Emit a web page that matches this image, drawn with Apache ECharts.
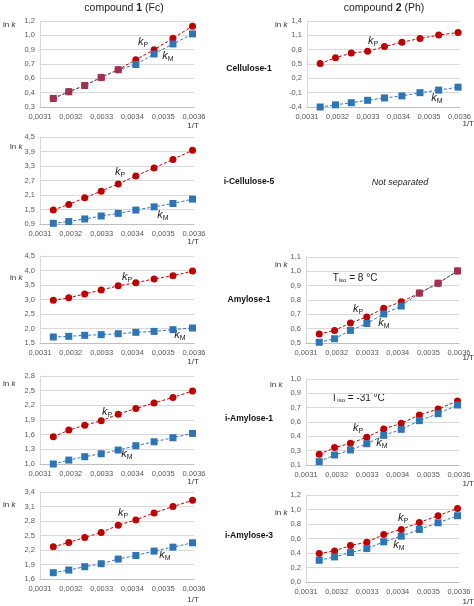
<!DOCTYPE html>
<html><head><meta charset="utf-8">
<script src="https://cdn.jsdelivr.net/npm/echarts@6/dist/echarts.min.js"></script>
<style>html,body{margin:0;padding:0;background:#fff}#c{width:474px;height:606px}</style>
</head><body><div id="c"></div>
<script>
// ---- x values (1/T for 45..5 °C) ----
const invT = [0.0031432, 0.0031934, 0.0032452, 0.0032987, 0.0033540, 0.0034112, 0.0034704, 0.0035317, 0.0035952];
const xTicks = [0.0031, 0.0032, 0.0033, 0.0034, 0.0035, 0.0036];
const xTickLabels = ['0,0031', '0,0032', '0,0033', '0,0034', '0,0035', '0,0036'];

// ---- series values (ln k) ----
const fcCell1P = [0.39, 0.46, 0.525, 0.61, 0.69, 0.795, 0.90, 1.02, 1.145];
const fcCell1M = [0.39, 0.46, 0.525, 0.61, 0.69, 0.745, 0.855, 0.96, 1.065];
const phCell1P = [0.51, 0.63, 0.73, 0.765, 0.865, 0.955, 1.035, 1.105, 1.16];
const phCell1M = [-0.40, -0.355, -0.31, -0.26, -0.21, -0.168, -0.10, -0.047, 0.015];
const fcICell5P = [1.48, 1.71, 1.985, 2.26, 2.56, 2.89, 3.22, 3.57, 3.95];
const fcICell5M = [0.93, 1.00, 1.11, 1.23, 1.34, 1.477, 1.61, 1.75, 1.93];
const fcAmy1P = [2.97, 3.06, 3.19, 3.33, 3.47, 3.58, 3.71, 3.82, 3.98];
const fcAmy1M = [1.707, 1.73, 1.764, 1.787, 1.82, 1.868, 1.90, 1.96, 2.017];
const phAmy1P = [0.562, 0.588, 0.64, 0.682, 0.742, 0.788, 0.848, 0.917, 1.003];
const phAmy1M = [0.505, 0.53, 0.588, 0.636, 0.703, 0.758, 0.848, 0.917, 1.003];
const fcIAmy1P = [1.557, 1.693, 1.795, 1.883, 2.02, 2.134, 2.25, 2.36, 2.494];
const fcIAmy1M = [1.0, 1.08, 1.149, 1.21, 1.285, 1.374, 1.455, 1.537, 1.625];
const phIAmy1P = [0.212, 0.282, 0.327, 0.39, 0.477, 0.536, 0.623, 0.686, 0.77];
const phIAmy1M = [0.135, 0.205, 0.257, 0.323, 0.41, 0.473, 0.564, 0.637, 0.728];
const fcIAmy3P = [2.266, 2.355, 2.459, 2.562, 2.713, 2.823, 2.967, 3.098, 3.228];
const fcIAmy3M = [1.73, 1.785, 1.854, 1.916, 2.012, 2.087, 2.177, 2.259, 2.349];
const phIAmy3P = [0.392, 0.429, 0.503, 0.549, 0.655, 0.725, 0.821, 0.914, 1.015];
const phIAmy3M = [0.30, 0.346, 0.406, 0.461, 0.554, 0.632, 0.725, 0.817, 0.914];

// ---- y tick values and labels ----
const yTicksFcCell1 = [0.3, 0.45, 0.6, 0.75, 0.9, 1.05, 1.2];
const yLabelsFcCell1 = ['0,3', '0,4', '0,6', '0,7', '0,9', '1,0', '1,2'];
const yTicksPhCell1 = [-0.4, -0.1, 0.2, 0.5, 0.8, 1.1, 1.4];
const yLabelsPhCell1 = ['-0,4', '-0,1', '0,2', '0,5', '0,8', '1,1', '1,4'];
const yTicksFcICell5 = [0.9, 1.5, 2.1, 2.7, 3.3, 3.9, 4.5];
const yLabelsFcICell5 = ['0,9', '1,5', '2,1', '2,7', '3,3', '3,9', '4,5'];
const yTicksFcAmy1 = [1.5, 2.0, 2.5, 3.0, 3.5, 4.0, 4.5];
const yLabelsFcAmy1 = ['1,5', '2,0', '2,5', '3,0', '3,5', '4,0', '4,5'];
const yTicksPhAmy1 = [0.5, 0.6, 0.7, 0.8, 0.9, 1.0, 1.1];
const yLabelsPhAmy1 = ['0,5', '0,6', '0,7', '0,8', '0,9', '1,0', '1,1'];
const yTicksFcIAmy1 = [1.0, 1.3, 1.6, 1.9, 2.2, 2.5, 2.8];
const yLabelsFcIAmy1 = ['1,0', '1,3', '1,6', '1,9', '2,2', '2,5', '2,8'];
const yTicksPhIAmy1 = [0.1, 0.25, 0.4, 0.55, 0.7, 0.85, 1.0];
const yLabelsPhIAmy1 = ['0,1', '0,3', '0,4', '0,6', '0,7', '0,9', '1,0'];
const yTicksFcIAmy3 = [1.6, 1.9, 2.2, 2.5, 2.8, 3.1, 3.4];
const yLabelsFcIAmy3 = ['1,6', '1,9', '2,2', '2,5', '2,8', '3,1', '3,4'];
const yTicksPhIAmy3 = [0.0, 0.2, 0.4, 0.6, 0.8, 1.0, 1.2];
const yLabelsPhIAmy3 = ['0,0', '0,2', '0,4', '0,6', '0,8', '1,0', '1,2'];

const headers = ['compound ', '1', ' (Fc)', 'compound ', '2', ' (Ph)'];
const rowNames = ['Cellulose-1', 'i-Cellulose-5', 'Amylose-1', 'i-Amylose-1', 'i-Amylose-3'];

// ---- layout ----
const FONT = '"Liberation Sans", Arial, sans-serif';
const RED = '#C00000', BLUE = '#2E75B6', OVER = '#A2304E', GREY = '#595959';

const panels = [
  { p: fcCell1P, m: fcCell1M, yt: yTicksFcCell1, yl: yLabelsFcCell1, box: [40, 21, 154, 86], lnk: [3, 25], it: [193, 126, 'center'], kp: [143, 42], km: [168, 56] },
  { p: phCell1P, m: phCell1M, yt: yTicksPhCell1, yl: yLabelsPhCell1, box: [307, 21, 153, 86], lnk: [275, 25], it: [474, 124, 'right'], kp: [373, 41], km: [437, 98] },
  { p: fcICell5P, m: fcICell5M, yt: yTicksFcICell5, yl: yLabelsFcICell5, box: [40, 137, 154, 87], lnk: [10, 147], it: [193, 242, 'center'], kp: [120, 172], km: [163, 215] },
  { p: fcAmy1P, m: fcAmy1M, yt: yTicksFcAmy1, yl: yLabelsFcAmy1, box: [40, 256, 154, 87], lnk: [10, 278], it: [193, 362, 'center'], kp: [127, 277], km: [180, 335] },
  { p: phAmy1P, m: phAmy1M, yt: yTicksPhAmy1, yl: yLabelsPhAmy1, box: [306, 257, 153, 86], lnk: [275, 265], it: [474, 358, 'right'], kp: [358, 309], km: [384, 323], tiso: ['8', 355, 278] },
  { p: fcIAmy1P, m: fcIAmy1M, yt: yTicksFcIAmy1, yl: yLabelsFcIAmy1, box: [40, 376, 154, 88], lnk: [3, 384], it: [193, 482, 'center'], kp: [107, 412], km: [127, 454] },
  { p: phIAmy1P, m: phIAmy1M, yt: yTicksPhIAmy1, yl: yLabelsPhIAmy1, box: [306, 379, 153, 86], lnk: [270, 385], it: [474, 484, 'right'], kp: [358, 428], km: [382, 443], tiso: ['-31', 358, 398] },
  { p: fcIAmy3P, m: fcIAmy3M, yt: yTicksFcIAmy3, yl: yLabelsFcIAmy3, box: [40, 492, 154, 87], lnk: [3, 505], it: [193, 600, 'center'], kp: [123, 513], km: [165, 555] },
  { p: phIAmy3P, m: phIAmy3M, yt: yTicksPhIAmy3, yl: yLabelsPhIAmy3, box: [306, 495, 153, 87], lnk: [275, 513], it: [474, 602, 'right'], kp: [403, 518], km: [399, 545] }
];

const grid = [], xAxis = [], yAxis = [], series = [], graphic = [];

function kText(sub, x, y) {
  return {
    type: 'text', x: x, y: y, silent: true,
    style: {
      text: '{k|k}{s|' + sub + '}', align: 'center', verticalAlign: 'middle',
      rich: {
        k: { fontSize: 11, fontStyle: 'italic', fontFamily: FONT, fill: '#222' },
        s: { fontSize: 7, fontFamily: FONT, fill: '#222', padding: [6, 0, 0, 0] }
      }
    }
  };
}

panels.forEach((pn, i) => {
  const [l, t, w, h] = pn.box;
  grid.push({ left: l, top: t, width: w, height: h, containLabel: false });
  xAxis.push({
    type: 'value', gridIndex: i, min: xTicks[0], max: xTicks[xTicks.length - 1],
    axisLine: { show: true, onZero: false, lineStyle: { color: '#BFBFBF', width: 1 } },
    axisTick: { show: false, customValues: xTicks },
    splitLine: { show: false },
    axisLabel: {
      customValues: xTicks, fontSize: 7.5, fontFamily: FONT, color: GREY, margin: 6,
      formatter: v => { let k = 0, d = 1; xTicks.forEach((tv, j) => { if (Math.abs(tv - v) < d) { d = Math.abs(tv - v); k = j; } }); return xTickLabels[k]; }
    }
  });
  const yt = pn.yt, yl = pn.yl;
  yAxis.push({
    type: 'value', gridIndex: i, min: yt[0], max: yt[yt.length - 1],
    axisLine: { show: true, onZero: false, lineStyle: { color: '#D9D9D9', width: 1 } },
    axisTick: { show: false, customValues: yt },
    splitLine: { show: true, lineStyle: { color: '#D9D9D9', width: 1 } },
    axisLabel: {
      customValues: yt, fontSize: 7.5, fontFamily: FONT, color: GREY, margin: 5,
      formatter: v => { let k = 0, d = 1e9; yt.forEach((tv, j) => { if (Math.abs(tv - v) < d) { d = Math.abs(tv - v); k = j; } }); return yl[k]; }
    }
  });
  series.push({
    type: 'line', xAxisIndex: i, yAxisIndex: i, name: 'kP',
    data: invT.map((x, j) => [x, pn.p[j]]),
    symbol: 'circle', symbolSize: 7, itemStyle: { color: RED },
    lineStyle: { color: RED, width: 1, type: [3, 2] }, z: 2
  });
  series.push({
    type: 'line', xAxisIndex: i, yAxisIndex: i, name: 'kM',
    data: invT.map((x, j) => {
      const same = Math.abs(pn.p[j] - pn.m[j]) < 0.003;
      return same ? { value: [x, pn.m[j]], itemStyle: { color: OVER } } : [x, pn.m[j]];
    }),
    symbol: 'rect', symbolSize: 7, itemStyle: { color: BLUE },
    lineStyle: { color: BLUE, width: 1, type: [3, 2] }, z: 3
  });
  graphic.push({
    type: 'text', x: pn.lnk[0], y: pn.lnk[1], silent: true,
    style: { text: 'ln {i|k}', fontSize: 8, fontFamily: FONT, fill: '#333', align: 'left', verticalAlign: 'middle',
      rich: { i: { fontSize: 8, fontStyle: 'italic', fontFamily: FONT, fill: '#333' } } }
  });
  graphic.push({
    type: 'text', x: pn.it[0], y: pn.it[1], silent: true,
    style: { text: '1/T', fontSize: 8, fontFamily: FONT, fill: '#333', align: pn.it[2], verticalAlign: 'middle' }
  });
  graphic.push(kText('P', pn.kp[0], pn.kp[1]));
  graphic.push(kText('M', pn.km[0], pn.km[1]));
  if (pn.tiso) {
    graphic.push({
      type: 'text', x: pn.tiso[1], y: pn.tiso[2], silent: true,
      style: {
        text: 'T{s|iso} = ' + pn.tiso[0] + ' °C', fontSize: 10, fontFamily: FONT, fill: '#222', align: 'center', verticalAlign: 'middle',
        rich: { s: { fontSize: 6, fontFamily: FONT, fill: '#222', padding: [5, 0, 0, 0] } }
      }
    });
  }
});

// column headers
graphic.push({
  type: 'text', x: 124, y: 8, silent: true,
  style: { text: headers[0] + '{b|' + headers[1] + '}' + headers[2], fontSize: 10.5, fontFamily: FONT, fill: '#222', align: 'center', verticalAlign: 'middle',
    rich: { b: { fontSize: 10.5, fontWeight: 'bold', fontFamily: FONT, fill: '#222' } } }
});
graphic.push({
  type: 'text', x: 384, y: 8, silent: true,
  style: { text: headers[3] + '{b|' + headers[4] + '}' + headers[5], fontSize: 10.5, fontFamily: FONT, fill: '#222', align: 'center', verticalAlign: 'middle',
    rich: { b: { fontSize: 10.5, fontWeight: 'bold', fontFamily: FONT, fill: '#222' } } }
});
// row labels
const rowY = [69, 182, 300, 419, 536];
rowNames.forEach((n, i) => {
  graphic.push({
    type: 'text', x: 249, y: rowY[i], silent: true,
    style: { text: n, fontSize: 8.5, fontWeight: 'bold', fontFamily: FONT, fill: '#111', align: 'center', verticalAlign: 'middle' }
  });
});
graphic.push({
  type: 'text', x: 400, y: 182, silent: true,
  style: { text: 'Not separated', fontSize: 9, fontStyle: 'italic', fontFamily: FONT, fill: '#222', align: 'center', verticalAlign: 'middle' }
});

const chart = echarts.init(document.getElementById('c'), null, { renderer: 'canvas' });
chart.setOption({
  animation: false,
  backgroundColor: '#fff',
  grid, xAxis, yAxis, series, graphic
});
</script>
</body></html>
